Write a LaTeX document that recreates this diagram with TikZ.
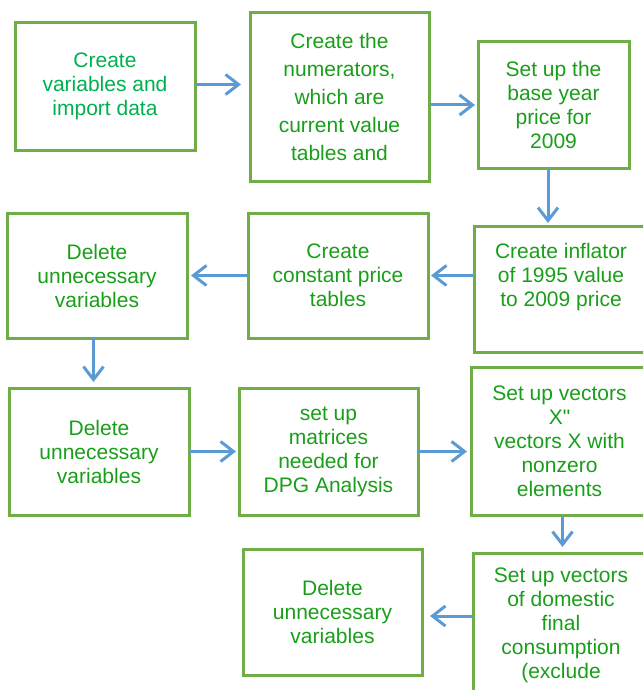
\documentclass[tikz,border=0pt]{standalone}
\usepackage{fontspec}
\setmainfont{Liberation Sans}
\newfontfamily\plainfont{Liberation Sans}[Ligatures=TeXOff]
\usetikzlibrary{arrows.meta}
\definecolor{boxgreen}{RGB}{112,173,71}
\definecolor{arrowblue}{RGB}{91,155,213}
\definecolor{txtgreenA}{RGB}{0,176,80}
\definecolor{txtgreen}{RGB}{25,158,25}
\begin{document}
\begin{tikzpicture}[x=1pt,y=-1pt,
  box/.style={draw=boxgreen, line width=3pt, inner sep=0pt, outer sep=0pt,
    anchor=north west, align=center, text=txtgreen,
    font=\fontsize{21}{24}\selectfont},
  txt/.style={inner sep=0pt, outer sep=0pt, align=center, text=txtgreen,
    font=\fontsize{21}{24}\selectfont},
  arr/.style={draw=arrowblue, line width=3pt,
    -{Straight Barb[length=13pt,width=20pt]}}]
\useasboundingbox (0,0) rectangle (643,690);
\clip (0,0) rectangle (643,690);
% row 1
\node[box, text=txtgreenA, minimum width=180pt, minimum height=127pt] (b1) at (15,23)
  {Create\\variables and\\import data};
\node[box, font=\fontsize{21}{28}\selectfont, minimum width=179pt, minimum height=168pt] (b2) at (250,13)
  {Create the\\numerators,\\which are\\current value\\tables and};
\node[box, minimum width=151pt, minimum height=126pt] (b3) at (478,42)
  {Set up the\\base year\\price for\\2009};
% row 2
\node[box, minimum width=174pt, minimum height=126pt] (b4) at (474,226) {};
\node[txt, anchor=north] (t4) at (561,243) {Create inflator\\of 1995 value\\to 2009 price};
\node[box, minimum width=180pt, minimum height=125pt] (b5) at (248,213)
  {Create\\constant price\\tables};
\node[box, minimum width=180pt, minimum height=125pt] (b6) at (7,213)
  {Delete\\unnecessary\\variables};
% row 3
\node[box, minimum width=180pt, minimum height=127pt] (b7) at (9,388)
  {Delete\\unnecessary\\variables};
\node[box, minimum width=179pt, minimum height=127pt] (b8) at (239,388)
  {set up\\matrices\\needed for\\DPG Analysis};
\node[box, minimum width=177pt, minimum height=148pt] (b9) at (471,367)
  {Set up vectors\\{\plainfont X"}\\vectors X with\\nonzero\\elements};
% row 4
\node[box, minimum width=175pt, minimum height=170pt] (b10) at (473,553) {};
\node[txt, anchor=north] (t10) at (561,568)
  {Set up vectors\\of domestic\\final\\consumption\\(exclude};
\node[box, minimum width=179pt, minimum height=126pt] (b11) at (243,549)
  {Delete\\unnecessary\\variables};
% arrows
\draw[arr, shorten >=9pt] ([yshift=2pt]b1.east) -- ([yshift=2pt]b1.east -| b2.west);
\draw[arr, shorten >=3pt] (b2.east |- b3.west) -- (b3.west);
\draw[arr, shorten >=3pt] ([xshift=-5.5pt]b3.south) -- ([xshift=-5.5pt]b3.south |- b4.north);
\draw[arr, shorten >=3pt] (b4.west |- b5.east) -- (b5.east);
\draw[arr, shorten >=4pt] (b5.west) -- (b6.east);
\draw[arr, shorten >=6pt] ([xshift=-3.5pt]b6.south) -- ([xshift=-3.5pt]b6.south |- b7.north);
\draw[arr, shorten >=3pt] (b7.east) -- (b8.west);
\draw[arr, shorten >=4pt] (b8.east) -- (b8.east -| b9.west);
\draw[arr, shorten >=6pt] ([xshift=3pt]b9.south) -- ([xshift=3pt]b9.south |- b10.north);
\draw[arr, shorten >=8pt] ([yshift=-4pt]b10.west |- b11.east) -- ([yshift=-4pt]b11.east);
\end{tikzpicture}
\end{document}
